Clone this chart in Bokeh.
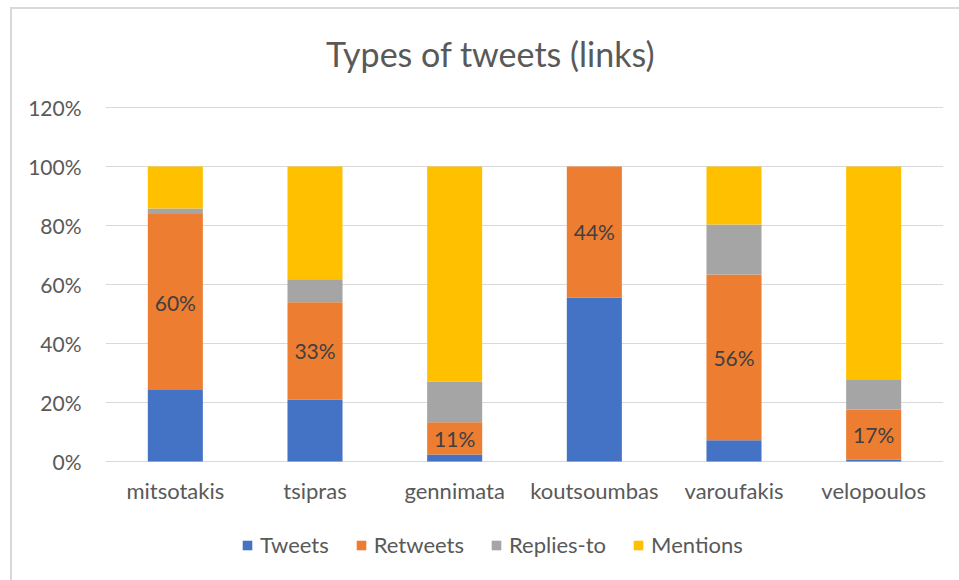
from bokeh.plotting import figure
from bokeh.models import ColumnDataSource, NumeralTickFormatter, Legend, LegendItem, FactorRange, Label
from bokeh.core.properties import value
from bokeh.embed import file_html
from bokeh.resources import INLINE

# ---- data ----
politicians = ["mitsotakis", "tsipras", "gennimata", "koutsoumbas", "varoufakis", "velopoulos"]
tweets   = [0.242, 0.210, 0.024, 0.556, 0.072, 0.007]
retweets = [0.597, 0.330, 0.109, 0.444, 0.562, 0.169]
replies  = [0.019, 0.078, 0.138, 0.000, 0.169, 0.103]
mentions = [0.142, 0.382, 0.729, 0.000, 0.197, 0.721]
series_names = ["Tweets", "Retweets", "Replies-to", "Mentions"]
y_ticks = [0, 0.2, 0.4, 0.6, 0.8, 1.0, 1.2]

colors = ["#4472C4", "#ED7D31", "#A5A5A5", "#FFC000"]
FONT = "Lato"
TXT = "#595959"

src = ColumnDataSource(dict(cat=politicians, Tweets=tweets, Retweets=retweets,
                            **{"Replies-to": replies}, Mentions=mentions))

# frame covers the full canvas height; value axis spans 0..120% between px 461 and 107
p = figure(x_range=FactorRange(*politicians), y_range=(-0.4034, 1.5627), title=None,
           width=959, height=580, output_backend="svg", toolbar_location=None,
           min_border_left=105, min_border_right=16, min_border_top=0, min_border_bottom=0)
p.background_fill_alpha = 0
p.border_fill_alpha = 0
p.outline_line_color = None
p.x_range.range_padding = 0

rs = p.vbar_stack(series_names, x="cat", width=0.394, source=src, color=colors, line_color=None)

# data labels for retweets
lab_y = [t + r / 2 for t, r in zip(tweets, retweets)]
lab_txt = [f"{round(r * 100)}%" for r in retweets]
p.text(x=politicians, y=lab_y, text=lab_txt, text_align="center", text_baseline="middle",
       text_font=value(FONT), text_font_size="21px", text_color="#404040")

# category labels (under the 0% line)
p.text(x=politicians, y=[-0.1] * len(politicians), text=politicians, text_align="center",
       text_baseline="middle", text_font=value(FONT), text_font_size="22px", text_color=TXT)

# axes
p.xaxis.visible = False
p.yaxis.ticker = y_ticks
p.yaxis.formatter = NumeralTickFormatter(format="0%")
p.yaxis.axis_line_color = None
p.yaxis.major_tick_line_color = None
p.yaxis.minor_tick_line_color = None
p.yaxis.major_label_text_font = FONT
p.yaxis.major_label_text_font_size = "21px"
p.yaxis.major_label_text_color = TXT
p.yaxis.major_label_standoff = 18

p.xgrid.grid_line_color = None
p.ygrid.grid_line_color = "#D9D9D9"
p.ygrid.grid_line_width = 1

# title
title = Label(x=2.757, y=1.383, text="Types of tweets (links)", text_align="center",
              text_baseline="middle", text_font=FONT, text_font_size="34px", text_color=TXT)
p.add_layout(title)

# legend
legend = Legend(items=[LegendItem(label=n, renderers=[r]) for n, r in zip(series_names, rs)],
                orientation="horizontal", location=(136, 22))
legend.label_text_font = FONT
legend.label_text_font_size = "22px"
legend.label_text_color = TXT
legend.glyph_width = 12
legend.glyph_height = 12
legend.spacing = 26
legend.padding = 0
legend.margin = 0
legend.label_standoff = 7
legend.border_line_color = None
legend.background_fill_alpha = 0
p.add_layout(legend, "center")

p.styles = {
    "background": "linear-gradient(#D9D9D9,#D9D9D9) 10px 7px / 2px 100% no-repeat, "
                  "linear-gradient(#D9D9D9,#D9D9D9) 10px 7px / 100% 2px no-repeat, white"
}

open("out.html", "w").write(file_html(p, INLINE))
